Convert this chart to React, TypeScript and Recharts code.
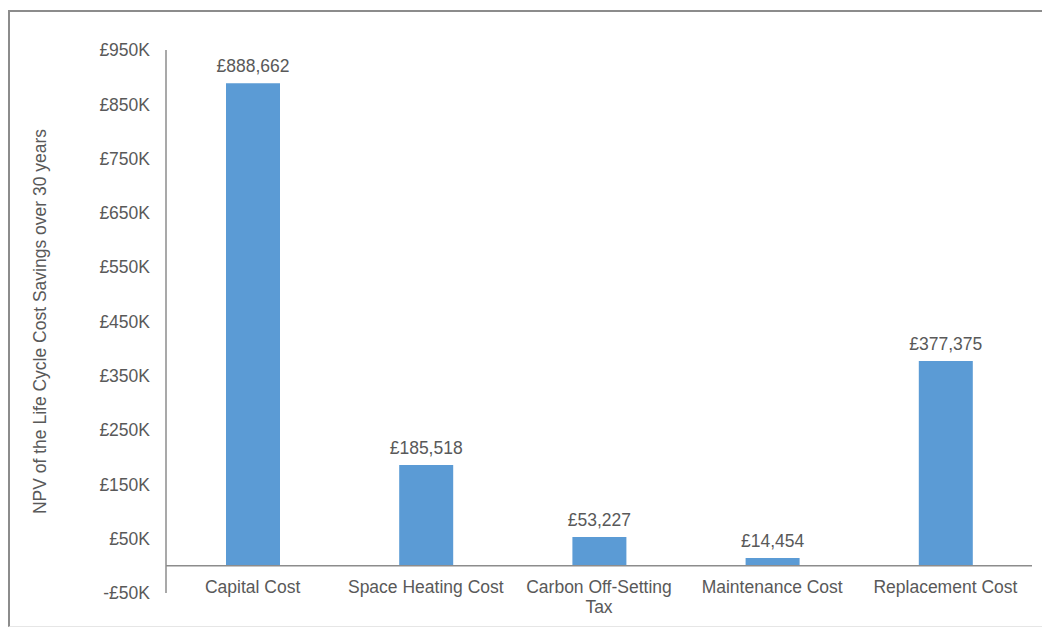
import { BarChart, Bar, XAxis, YAxis, ReferenceLine, LabelList } from "recharts";

const categories = [
    "Capital Cost",
    "Space Heating Cost",
    "Carbon Off-Setting Tax",
    "Maintenance Cost",
    "Replacement Cost",
];

const savings = [888662, 185518, 53227, 14454, 377375];

const yTicks = [-50000, 50000, 150000, 250000, 350000, 450000, 550000, 650000, 750000, 850000, 950000];

const yAxisTitle = "NPV of the Life Cycle Cost Savings over 30 years";

const FONT = "'Liberation Sans', Arial, sans-serif";
const TEXT = "#595959";

const chartData = categories.map((name, i) => ({
    name,
    value: savings[i],
}));

// long names break onto a second line at the last space
function splitLabel(label: string): string[] {
    if (label.length <= 18) return [label];
    const cut = label.lastIndexOf(" ");
    return [label.slice(0, cut), label.slice(cut + 1)];
}

// category labels sit just under the zero line, like Excel does
function CategoryTick({ x, y, payload }: any) {
    const lines = splitLabel(String(payload.value));
    return (
        <text
            x={x}
            y={y - 12}
            textAnchor="middle"
            fill={TEXT}
            fontSize={17.5}
            fontFamily={FONT}
        >
            {lines.map((line, i) => (
                <tspan key={i} x={x} dy={i === 0 ? "0.71em" : 20}>
                    {line}
                </tspan>
            ))}
        </text>
    );
}

export default function App() {
    return (
        <div
            style={{
                position: "fixed",
                left: 8,
                top: 10,
                width: 1034,
                height: 617,
                boxSizing: "border-box",
                borderTop: "2px solid #8c8c8c",
                borderLeft: "2px solid #8c8c8c",
                borderBottom: "1px solid #e6e6e6",
                background: "#fff",
            }}
        >
            <BarChart
                width={1032}
                height={614}
                data={chartData}
                margin={{ top: 38, right: 10, left: 0, bottom: 0 }}
                barSize={54}
            >
                <XAxis
                    dataKey="name"
                    axisLine={false}
                    tickLine={false}
                    tickSize={0}
                    tickMargin={0}
                    height={33}
                    interval={0}
                    tick={<CategoryTick />}
                />
                <YAxis
                    width={156}
                    domain={[-50000, 950000]}
                    ticks={yTicks}
                    allowDataOverflow
                    axisLine={{ stroke: "#8c8c8c", strokeWidth: 1.5 }}
                    tickLine={false}
                    tickSize={0}
                    tickMargin={16}
                    tick={{ fill: TEXT, fontSize: 17.5, fontFamily: FONT }}
                    tickFormatter={(v: number) =>
                        v < 0 ? `-£${Math.abs(v) / 1000}K` : `£${v / 1000}K`
                    }
                    label={{
                        value: yAxisTitle,
                        angle: -90,
                        position: "insideLeft",
                        offset: 30,
                        style: { textAnchor: "middle", fill: TEXT, fontSize: 17.5, fontFamily: FONT },
                    }}
                />
                <ReferenceLine y={0} stroke="#8c8c8c" strokeWidth={1.5} />
                <Bar dataKey="value" fill="#5B9BD5" isAnimationActive={false}>
                    <LabelList
                        dataKey="value"
                        position="top"
                        offset={11}
                        fill={TEXT}
                        fontSize={17.5}
                        fontFamily={FONT}
                        formatter={(v: any) => `£${Number(v).toLocaleString("en-GB")}`}
                    />
                </Bar>
            </BarChart>
        </div>
    );
}
